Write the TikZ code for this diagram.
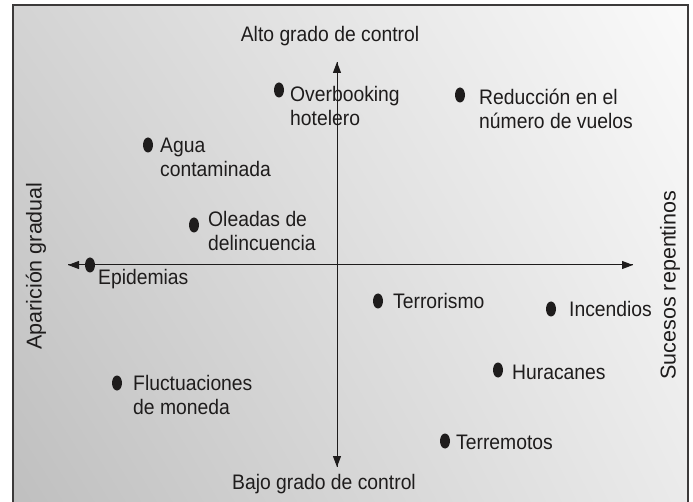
\documentclass[tikz,border=0pt]{standalone}
\usepackage{fontspec}
\setmainfont[FakeStretch=0.92]{Liberation Sans}
\newfontfamily\sidefont{Liberation Sans}
\usetikzlibrary{shapes.geometric,arrows.meta,shadings}
\definecolor{ink}{HTML}{1E1C1C}
\definecolor{framegray}{HTML}{3C3A3A}
\tikzset{
        dot/.style={ellipse, fill=ink, draw=none, minimum width=10pt, minimum height=15pt, inner sep=0pt},
        lbl/.style={anchor=base west, inner sep=0pt, text=ink, align=left, font=\fontsize{21}{24}\selectfont},
        axislbl/.style={anchor=base, inner sep=0pt, text=ink, font=\fontsize{21}{24}\selectfont},
        sidelbl/.style={rotate=90, inner sep=0pt, text=ink, font=\sidefont\fontsize{21.5}{24}\selectfont},
        axis/.style={draw=ink, line width=1pt, -{Triangle[length=11pt,width=8pt]}},
        frame/.style={draw=framegray, line width=1.6pt}
          }
\begin{document}
\begin{tikzpicture}[x=1pt,y=-1pt]
        \useasboundingbox (0,0) rectangle (693,502);
        \shade[upper left=black!17, upper right=black!2, lower left=black!25, lower right=black!8]
          (13,5) rectangle (688,502);
        \draw[frame] (13,502) -- (13,5) -- (688,5) -- (688,502);
        % axes
        \coordinate (west) at (68,265);
        \coordinate (east) at (633,265);
        \coordinate (north) at (337,62);
        \coordinate (south) at (337,467);
        \draw[axis] (east) -- (west);
        \draw[axis] (west) -- (east);
        \draw[axis] (south) -- (north);
        \draw[axis] (north) -- (south);
        \node[axislbl] (alto) at (330,42) {Alto grado de control};
        \node[axislbl] (bajo) at (324,489) {Bajo grado de control};
        \node[sidelbl] (gradual) at (36,266) {Aparición gradual};
        \node[sidelbl] (repentinos) at (670,285) {Sucesos repentinos};
        % events
        \node[dot] (overbooking) at (279,90) {};
        \node[lbl] (overbooking-t) at (290,126) {Overbooking\\hotelero};
        \node[dot] (vuelos) at (460,95) {};
        \node[lbl] (vuelos-t) at (479,129) {Reducción en el\\número de vuelos};
        \node[dot] (agua) at (148,145) {};
        \node[lbl] (agua-t) at (160,177) {Agua\\contaminada};
        \node[dot] (oleadas) at (194,225) {};
        \node[lbl] (oleadas-t) at (208,251) {Oleadas de\\delincuencia};
        \node[dot] (epidemias) at (90,265) {};
        \node[lbl] (epidemias-t) at (98,285) {Epidemias};
        \node[dot] (terrorismo) at (378,301) {};
        \node[lbl] (terrorismo-t) at (393,309) {Terrorismo};
        \node[dot] (incendios) at (551,309) {};
        \node[lbl] (incendios-t) at (569,317) {Incendios};
        \node[dot] (moneda) at (117,383) {};
        \node[lbl] (moneda-t) at (133,414) {Fluctuaciones\\de moneda};
        \node[dot] (huracanes) at (498,370) {};
        \node[lbl] (huracanes-t) at (512,379) {Huracanes};
        \node[dot] (terremotos) at (445,441) {};
        \node[lbl] (terremotos-t) at (456,449) {Terremotos};
      \end{tikzpicture}
\end{document}
